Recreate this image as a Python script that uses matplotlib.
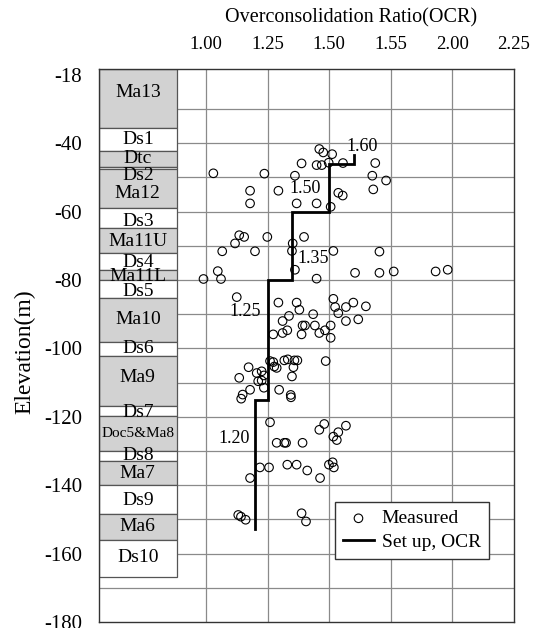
import matplotlib
matplotlib.use("Agg")
import matplotlib.pyplot as plt
import matplotlib.transforms as mtransforms
from matplotlib.patches import Rectangle

plt.rcParams['font.family'] = ['Liberation Serif', 'DejaVu Serif']

# ---------------- data ----------------
ocr_measured = [
    1.030, 1.237, 1.179, 1.179, 1.294, 1.361, 1.368, 1.449, 1.388, 1.449,
    1.470, 1.498, 1.460, 1.476, 1.512, 1.556, 1.687, 1.675, 1.679, 1.537,
    1.555, 1.506, 1.731, 1.118, 1.135, 1.155, 1.066, 1.199, 1.249, 1.352,
    1.349, 1.398, 1.517, 1.361, 1.449, 1.048, 1.061, 0.990, 1.605, 1.704,
    1.704, 1.762, 1.932, 1.981, 1.125, 1.294, 1.368, 1.379, 1.517, 1.524,
    1.537, 1.568, 1.598, 1.649, 1.435, 1.337, 1.311, 1.568, 1.618, 1.402,
    1.392, 1.442, 1.506, 1.330, 1.311, 1.273, 1.388, 1.460, 1.483, 1.506,
    1.260, 1.273, 1.277, 1.287, 1.318, 1.332, 1.359, 1.371, 1.355, 1.349,
    1.486, 1.173, 1.206, 1.226, 1.235, 1.212, 1.226, 1.135, 1.235, 1.179,
    1.149, 1.143, 1.297, 1.344, 1.345, 1.260, 1.460, 1.480, 1.568, 1.537,
    1.517, 1.531, 1.287, 1.318, 1.325, 1.392, 1.219, 1.256, 1.330, 1.368,
    1.411, 1.499, 1.514, 1.519, 1.463, 1.179, 1.131, 1.142, 1.161, 1.388,
    1.406,
]
elev_measured = [
    -48.8, -48.9, -53.9, -57.6, -53.9, -49.5, -57.6, -57.6, -45.9, -46.4,
    -46.4, -45.7, -41.7, -42.7, -43.2, -45.8, -45.8, -49.5, -53.5, -54.5,
    -55.3, -58.6, -50.9, -69.3, -66.9, -67.4, -71.6, -71.6, -67.4, -69.3,
    -71.5, -67.4, -71.5, -77.0, -79.6, -77.4, -79.7, -79.7, -77.9, -77.9,
    -71.7, -77.5, -77.5, -77.0, -85.0, -86.6, -86.6, -88.7, -85.5, -87.9,
    -89.7, -87.9, -86.6, -87.7, -90.0, -90.5, -92.0, -92.0, -91.5, -93.3,
    -93.3, -93.3, -93.3, -94.7, -95.5, -95.9, -95.9, -95.5, -94.7, -96.9,
    -103.7, -104.0, -105.3, -105.7, -103.5, -103.2, -103.5, -103.5, -105.5, -108.2,
    -103.7, -105.5, -107.2, -106.7, -107.9, -109.6, -109.4, -108.6, -111.5, -112.1,
    -113.5, -114.7, -112.1, -113.6, -114.3, -121.6, -123.8, -122.1, -122.6, -124.5,
    -125.8, -126.8, -127.6, -127.6, -127.6, -127.6, -134.8, -134.8, -134.0, -134.0,
    -135.7, -134.0, -133.3, -134.8, -137.9, -137.9, -148.7, -149.2, -150.1, -148.2,
    -150.6,
]

# set-up OCR profile (value, top elevation of the layer); last bottom
ocr_setup_values = [1.60, 1.50, 1.35, 1.25, 1.20]
ocr_setup_tops = [-43.5, -46.0, -60.0, -80.0, -115.0]
ocr_setup_bottom = -152.7
ocr_setup_labels = ["1.60", "1.50", "1.35", "1.25", "1.20"]
ocr_label_x = [1.633, 1.402, 1.434, 1.158, 1.114]
ocr_label_y = [-41.1, -53.1, -73.6, -89.2, -126.4]

# strata column
strata_names = ["Ma13", "Ds1", "Dtc", "Ds2", "Ma12", "Ds3", "Ma11U", "Ds4",
                "Ma11L", "Ds5", "Ma10", "Ds6", "Ma9", "Ds7", "Doc5&Ma8",
                "Ds8", "Ma7", "Ds9", "Ma6", "Ds10"]
strata_tops = [-18.3, -35.6, -42.4, -47.0, -47.6, -59.0, -64.9, -72.2,
               -77.2, -80.1, -85.4, -98.0, -102.1, -116.7, -119.9,
               -129.9, -132.8, -139.8, -148.3, -155.9]
strata_bottom = -166.8
strata_is_clay = [True, False, True, False, True, False, True, False,
                  True, False, True, False, True, False, True,
                  False, True, False, True, False]
strata_label_y = [-25.3, -38.8, -44.6, -49.3, -54.6, -62.8, -68.7, -74.8,
                  -78.9, -83.3, -91.5, -100.0, -108.5, -118.7, -124.9,
                  -131.3, -136.6, -144.5, -152.1, -161.2]

# axes ticks
x_tick_values = [1.00, 1.25, 1.50, 1.75, 2.00, 2.25]
x_tick_labels = ["1.00", "1.25", "1.50", "1.55", "2.00", "2.25"]
y_tick_values = [-20, -40, -60, -80, -100, -120, -140, -160, -180]
y_tick_labels = ["-18", "-40", "-60", "-80", "-100", "-120", "-140", "-160", "-180"]
x_grid = [1.00, 1.25, 1.50, 1.75, 2.00]
y_grid = [-30, -40, -50, -60, -70, -80, -90, -100, -110, -120, -130, -140,
          -150, -160, -170]

# ---------------- figure ----------------
W, H = 536, 628
fig = plt.figure(figsize=(W / 100, H / 100), dpi=100)
ax = fig.add_axes([99 / W, 6 / H, 415 / W, 553 / H])
ax.set_xlim(0.566, 2.25)
ax.set_ylim(-180, -18.3)

grid_color = '#8a8a8a'
for gx in x_grid:
    ax.axvline(gx, color=grid_color, lw=0.9, zorder=0)
for gy in y_grid:
    ax.axhline(gy, color=grid_color, lw=0.9, zorder=0)

# strata column (x in axes fraction, y in data)
trans = mtransforms.blended_transform_factory(ax.transAxes, ax.transData)
col_w = 0.187
bounds = strata_tops + [strata_bottom]
for i, name in enumerate(strata_names):
    top, bot = bounds[i], bounds[i + 1]
    fc = '#d2d2d2' if strata_is_clay[i] else 'white'
    ax.add_patch(Rectangle((0, bot), col_w, top - bot, transform=trans,
                           facecolor=fc, edgecolor='#555555', lw=0.9, zorder=2))
for i, name in enumerate(strata_names):
    fs = 11 if name == "Doc5&Ma8" else 14
    ax.text(col_w / 2, strata_label_y[i], name, transform=trans, ha='center',
            va='center', fontsize=fs, zorder=3)

# measured points
ax.scatter(ocr_measured, elev_measured, s=38, facecolors='none',
           edgecolors='black', linewidths=0.8, zorder=4, label='Measured')

# set-up OCR step line
xs, ys = [], []
s_bounds = ocr_setup_tops + [ocr_setup_bottom]
for i, v in enumerate(ocr_setup_values):
    xs += [v, v]
    ys += [s_bounds[i], s_bounds[i + 1]]
ax.plot(xs, ys, color='black', lw=2.0, zorder=5, label='Set up, OCR',
        solid_joinstyle='miter')
for lx, ly, lt in zip(ocr_label_x, ocr_label_y, ocr_setup_labels):
    ax.text(lx, ly, lt, ha='center', va='center', fontsize=13, zorder=6)

# axes styling
ax.xaxis.tick_top()
ax.set_xticks(x_tick_values)
ax.set_xticklabels(x_tick_labels, fontsize=13.5)
ax.set_yticks(y_tick_values)
ax.set_yticklabels(y_tick_labels, fontsize=15)
ax.tick_params(axis='x', length=0, pad=11.5)
ax.tick_params(axis='y', length=0, pad=12)
for sp in ax.spines.values():
    sp.set_color('#333333')
    sp.set_linewidth(1.0)

fig.text(351 / W, 1 - 18 / H, "Overconsolidation Ratio(OCR)", ha='center',
         va='center', fontsize=14.5)
fig.text(25 / W, 1 - 352 / H, "Elevation(m)", ha='center', va='center',
         rotation=90, fontsize=17)

leg = ax.legend(loc='upper left', bbox_to_anchor=(0.569, 0.217), fontsize=14,
                frameon=True, fancybox=False, framealpha=1, edgecolor='#333333',
                handlelength=1.6, handletextpad=0.4, borderpad=0.4,
                labelspacing=0.3, borderaxespad=0)
leg.get_frame().set_linewidth(1.0)
leg.set_zorder(10)

fig.savefig("out.png", dpi=100)
